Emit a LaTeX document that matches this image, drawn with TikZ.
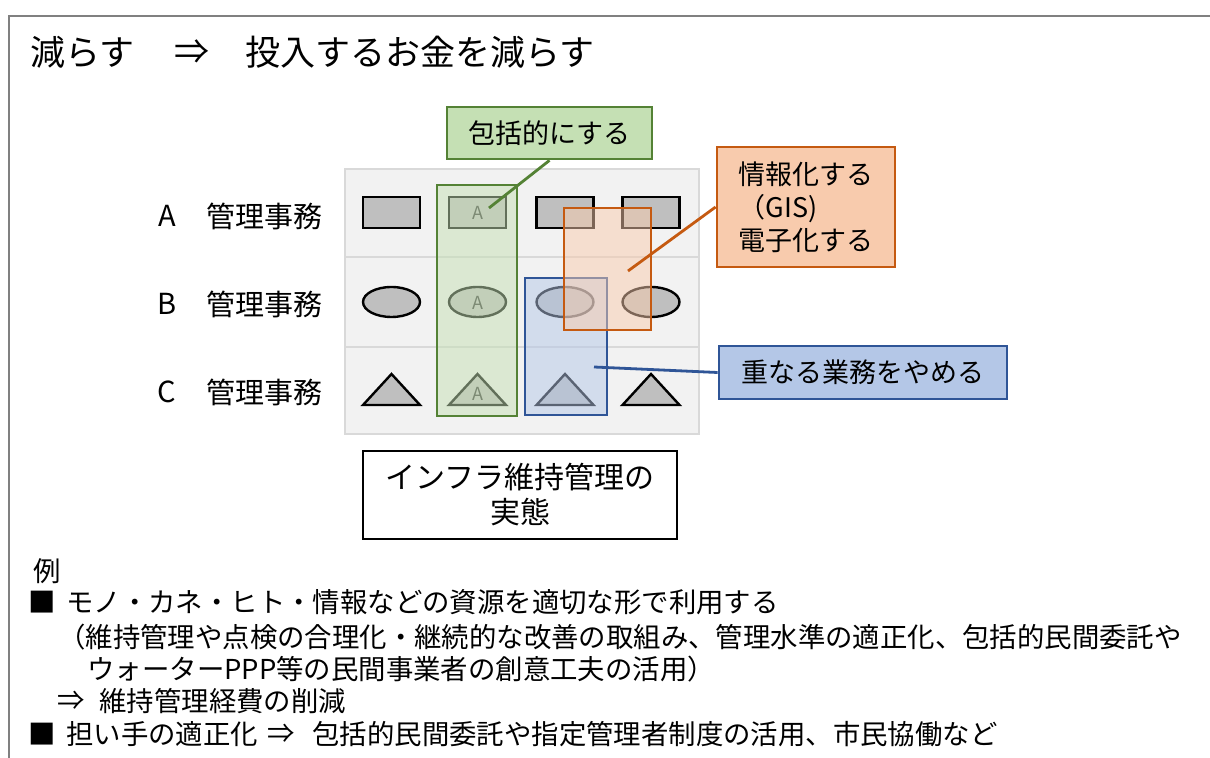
\documentclass[tikz,border=0pt]{standalone}
\usepackage{fontspec}
\setmainfont{Noto Sans CJK JP}
\usetikzlibrary{shapes.geometric}
\definecolor{gfill}{HTML}{C5E0B4}
\definecolor{gline}{HTML}{548235}
\definecolor{ofill}{HTML}{F8CBAD}
\definecolor{oline}{HTML}{C55A11}
\definecolor{bfill}{HTML}{B4C7E7}
\definecolor{bline}{HTML}{2F5597}
\definecolor{tbg}{HTML}{F2F2F2}
\definecolor{tline}{HTML}{D9D9D9}
\definecolor{shp}{HTML}{BFBFBF}
\definecolor{frm}{HTML}{808080}
\tikzset{
  txt/.style={inner sep=0pt, font=\fontsize{13.7}{16.5}\selectfont},
  ttl/.style={inner sep=0pt, font=\fontsize{17.5}{21}\selectfont},
  rowlab/.style={inner sep=0pt, font=\fontsize{14.5}{17}\selectfont},
  boxtxt/.style={font=\fontsize{13.5}{16.5}\selectfont, inner sep=0pt},
  rshape/.style={draw=black, fill=shp, line width=1.2pt, minimum width=28.5pt, minimum height=15.5pt, inner sep=0pt},
  eshape/.style={ellipse, draw=black, fill=shp, line width=1.2pt, minimum width=28.5pt, minimum height=15pt, inner sep=0pt},
  tshape/.style={draw=black, fill=shp, line width=1.2pt, line join=miter},
  amark/.style={inner sep=0pt, text=black!80, font=\fontsize{9}{10}\selectfont},
  overlay/.style={line width=1.2pt, fill opacity=0.5, inner sep=0pt},
  conn/.style={line width=1.4pt},
}
\begin{document}
\begin{tikzpicture}[x=0.5pt,y=-0.5pt]
\useasboundingbox (0,0) rectangle (1210,758);
\fill[white] (0,0) rectangle (1210,758);
% frame
\draw[frm, line width=1pt] (9,758) -- (9,16) -- (1210,16);
% title
\node[ttl, anchor=west] (t1) at (30,52) {減らす};
\node[ttl] (t2) at (191.5,52) {⇒};
\node[ttl, anchor=west] (t3) at (245,52) {投入するお金を減らす};
% table
\draw[tline, fill=tbg, line width=1.2pt] (345,169) rectangle (699,434);
\draw[tline, line width=1.2pt] (345,257) -- (699,257);
\draw[tline, line width=1.2pt] (345,347) -- (699,347);
% row labels
\node[rowlab] (la) at (167,216) {A};
\node[rowlab, anchor=west] (lat) at (206,216) {管理事務};
\node[rowlab] (lb) at (167,304) {B};
\node[rowlab, anchor=west] (lbt) at (206,304) {管理事務};
\node[rowlab] (lc) at (167,392) {C};
\node[rowlab, anchor=west] (lct) at (206,392) {管理事務};
% shapes row A
\node[rshape] (r1) at (391.5,212.5) {};
\node[rshape] (r2) at (477.5,212.5) {};
\node[rshape] (r3) at (565,212.5) {};
\node[rshape] (r4) at (651,212.5) {};
% row B
\node[eshape] (e1) at (391.5,302) {};
\node[eshape] (e2) at (477.5,302) {};
\node[eshape] (e3) at (565,302) {};
\node[eshape] (e4) at (651,302) {};
% row C
\draw[tshape] (391.5,374) -- (420,405) -- (363,405) -- cycle;
\draw[tshape] (477.5,374) -- (506,405) -- (449,405) -- cycle;
\draw[tshape] (565,374) -- (593.5,405) -- (536.5,405) -- cycle;
\draw[tshape] (651,374) -- (679.5,405) -- (622.5,405) -- cycle;
% A marks
\node[amark] (a1) at (477.5,213) {A};
\node[amark] (a2) at (477.5,303) {A};
\node[amark] (a3) at (477.5,394) {A};
% overlays
\node[overlay, draw=gline, fill=gfill, minimum width=40pt, minimum height=115.5pt] (gcol) at (477,300.5) {};
\node[overlay, draw=bline, fill=bfill, minimum width=41pt, minimum height=68.5pt] (bcol) at (566,346.5) {};
\node[overlay, draw=oline, fill=ofill, minimum width=43.5pt, minimum height=61pt] (ocol) at (607.5,269) {};
% labels
\node[boxtxt, draw=gline, fill=gfill, line width=1.4pt, minimum width=102.5pt, minimum height=26pt] (gl) at (549.5,133) {包括的にする};
\node[boxtxt, draw=oline, fill=ofill, line width=1.4pt, minimum width=89pt, minimum height=60pt, align=left] (ol) at (806,207) {情報化する\\（GIS)\\電子化する};
\node[boxtxt, draw=bline, fill=bfill, line width=1.4pt, minimum width=144pt, minimum height=26.5pt] (bl) at (863,372.5) {重なる業務をやめる};
% connector ends
\coordinate (gp) at (489,208);
\coordinate (op) at (628,271);
\coordinate (bp) at (594,367);
\draw[conn, gline] (gl.south) -- (gp);
\draw[conn, oline] (ol.west) -- (op);
\draw[conn, bline] (bl.west) -- (bp);
% infra box
\node[draw=black, line width=1.2pt, fill=white, minimum width=157pt, minimum height=44pt, align=center, inner sep=0pt, font=\fontsize{15}{17.5}\selectfont] (inf) at (520,495) {インフラ維持管理の\\実態};
% bottom text
\node[txt, anchor=west] (ex) at (33,571) {例};
\node[txt] (sq1) at (42.5,602) {■};
\node[txt, anchor=west] (b1) at (66,602) {モノ・カネ・ヒト・情報などの資源を適切な形で利用する};
\node[txt, anchor=west] (b2) at (58,637) {（維持管理や点検の合理化・継続的な改善の取組み、管理水準の適正化、包括的民間委託や};
\node[txt, anchor=west] (b3) at (87,669) {ウォーターPPP等の民間事業者の創意工夫の活用）};
\node[txt] (ar1) at (71,701) {⇒};
\node[txt, anchor=west] (b4) at (99,701) {維持管理経費の削減};
\node[txt] (sq2) at (42.5,734) {■};
\node[txt, anchor=west] (b5) at (66,734) {担い手の適正化};
\node[txt] (ar2) at (281,734) {⇒};
\node[txt, anchor=west] (b6) at (312,734) {包括的民間委託や指定管理者制度の活用、市民協働など};
\end{tikzpicture}
\end{document}
